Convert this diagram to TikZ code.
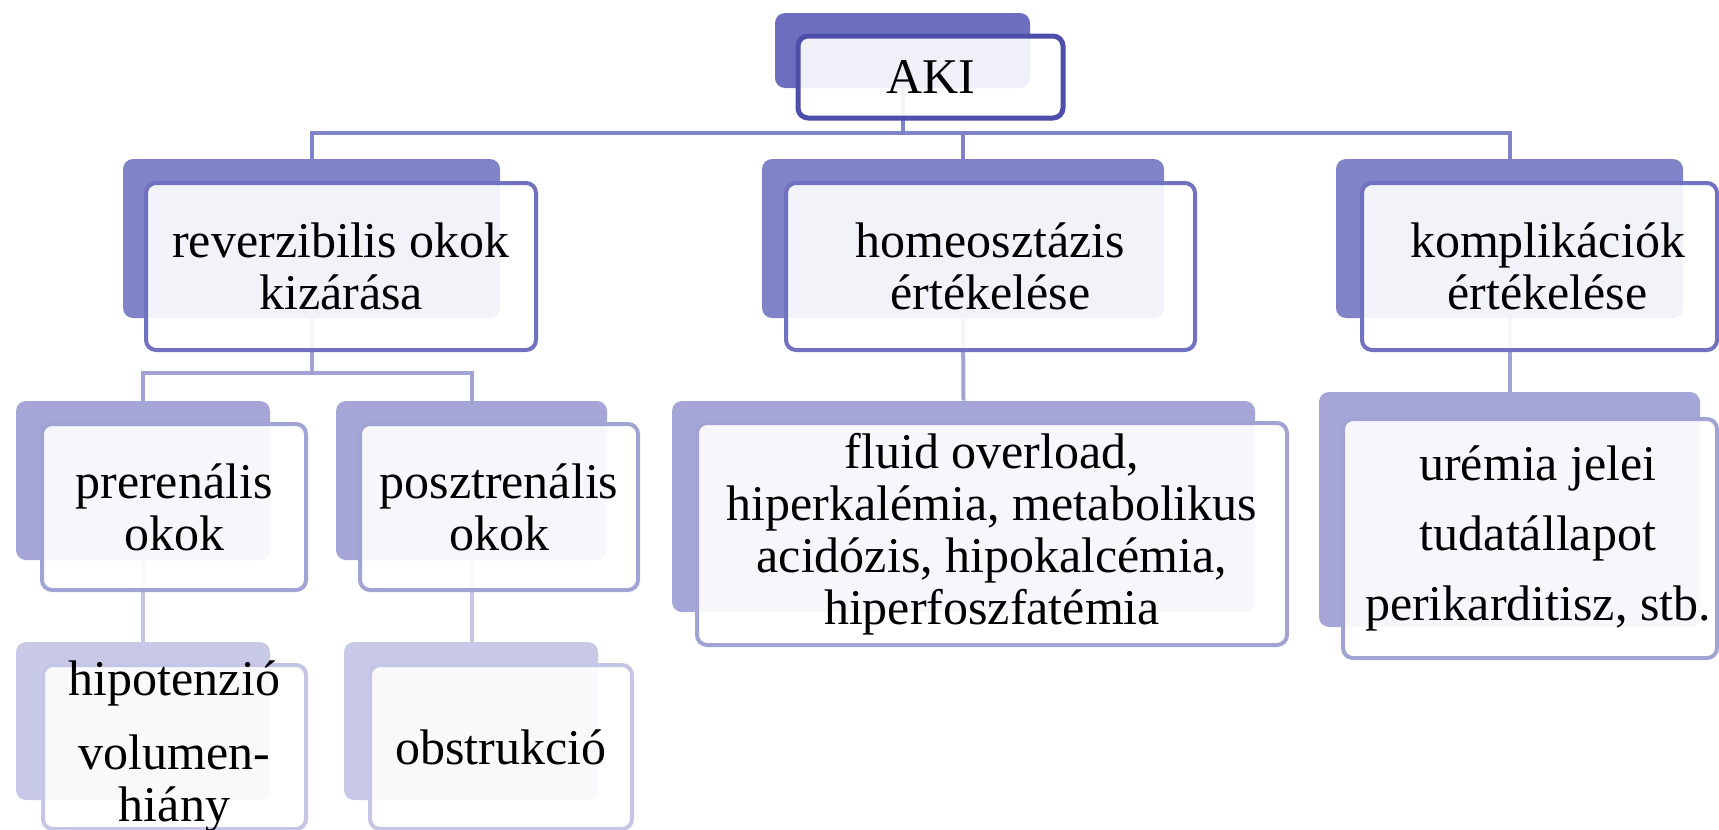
\documentclass[tikz,border=0pt]{standalone}
\usepackage{fontspec}
\setmainfont{Liberation Serif}
\definecolor{bkA}{HTML}{6D6EC0}
\definecolor{bdA}{HTML}{4C4EAA}
\definecolor{bkB}{HTML}{8183C8}
\definecolor{bdB}{HTML}{7072C0}
\definecolor{bkC}{HTML}{A5A6D7}
\definecolor{bdC}{HTML}{A2A3D5}
\definecolor{bkD}{HTML}{C8C9E7}
\definecolor{bdD}{HTML}{C5C6E5}
\tikzset{
  sz/.style 2 args={minimum width=#1*0.5pt, minimum height=#2*0.5pt},
  backbox/.style={draw=none, fill=#1, rounded corners=5pt, inner sep=0pt},
  frontbox/.style={draw=#1, line width=2pt, fill=white, fill opacity=0.9, rounded corners=5pt, inner sep=0pt},
  txt/.style={align=center, text=black, inner sep=0pt, font=\fontsize{25}{26}\selectfont},
  con/.style={draw=#1, line width=2pt},
}
\begin{document}
\begin{tikzpicture}[x=0.5pt, y=-0.5pt]
\useasboundingbox (0,0) rectangle (1719,830);
% back boxes
\node[backbox=bkA, sz={255}{75}] (akiB) at (902.5,50.5) {};
\node[backbox=bkB, sz={377}{159}] (revB) at (311.5,238.5) {};
\node[backbox=bkB, sz={402}{159}] (homB) at (963,238.5) {};
\node[backbox=bkB, sz={347}{159}] (komB) at (1509.5,238.5) {};
\node[backbox=bkC, sz={254}{159}] (preB) at (143,480.5) {};
\node[backbox=bkC, sz={271}{159}] (posB) at (471.5,480.5) {};
\node[backbox=bkC, sz={583}{211}] (fluB) at (963.5,506.5) {};
\node[backbox=bkC, sz={381}{235}] (ureB) at (1509.5,509.5) {};
\node[backbox=bkD, sz={254}{158}] (hipB) at (143,721) {};
\node[backbox=bkD, sz={254}{158}] (obsB) at (471,721) {};
% connectors
\coordinate (h1) at (0,133);
\coordinate (h2) at (0,373);
\draw[con=bkB] (akiB.south) -- (akiB.south |- h1) -| (revB.north);
\draw[con=bkB] (akiB.south |- h1) -| (homB.north);
\draw[con=bkB] (akiB.south |- h1) -| (komB.north);
\draw[con=bdC] (revB.south) -- (revB.south |- h2) -| (preB.north);
\draw[con=bdC] (revB.south |- h2) -| (posB.north);
\draw[con=bdC] (homB.south) -- (fluB.north);
\draw[con=bdC] (komB.south) -- (komB.south |- ureB.north);
\draw[con=bdD] (preB.south) -- (hipB.north);
\draw[con=bdD] (posB.south) -- (posB.south |- obsB.north);
% front boxes
\node[frontbox=bdA, line width=2.5pt, sz={265}{82}] (akiF) at (930.5,77) {};
\node[frontbox=bdB, sz={390}{167}] (revF) at (341,266.5) {};
\node[frontbox=bdB, sz={409}{167}] (homF) at (990.5,266.5) {};
\node[frontbox=bdB, sz={355}{167}] (komF) at (1539.5,266.5) {};
\node[frontbox=bdC, sz={264}{166}] (preF) at (174,507) {};
\node[frontbox=bdC, sz={278}{166}] (posF) at (499,507) {};
\node[frontbox=bdC, sz={590}{222}] (fluF) at (992,534) {};
\node[frontbox=bdC, sz={374}{239}] (ureF) at (1530,538.5) {};
\node[frontbox=bdD, sz={263}{164}] (hipF) at (174.5,747) {};
\node[frontbox=bdD, sz={262}{164}] (obsF) at (501,747) {};
% texts
\node[txt] (akiT) at (akiF) {AKI};
\node[txt] (revT) at (revF) {reverzibilis okok\\kizárása};
\node[txt] (homT) at (homF) {homeosztázis\\értékelése};
\node[txt] (komT) at ([xshift=4pt]komF.center) {komplikációk\\értékelése};
\node[txt] (preT) at (preF) {prerenális\\okok};
\node[txt] (posT) at (posF) {posztrenális\\okok};
\node[txt] (fluT) at (fluF) {fluid overload,\\hiperkalémia, metabolikus\\acidózis, hipokalcémia,\\hiperfoszfatémia};
\node[txt] (ureT) at ([xshift=4pt]ureF.center) {urémia jelei\\[9pt]tudatállapot\\[9pt]perikarditisz, stb.};
\node[txt] (hipT) at (hipF) {hipotenzió\\[11pt]volumen-\\hiány};
\node[txt] (obsT) at (obsF) {obstrukció};
\end{tikzpicture}
\end{document}
